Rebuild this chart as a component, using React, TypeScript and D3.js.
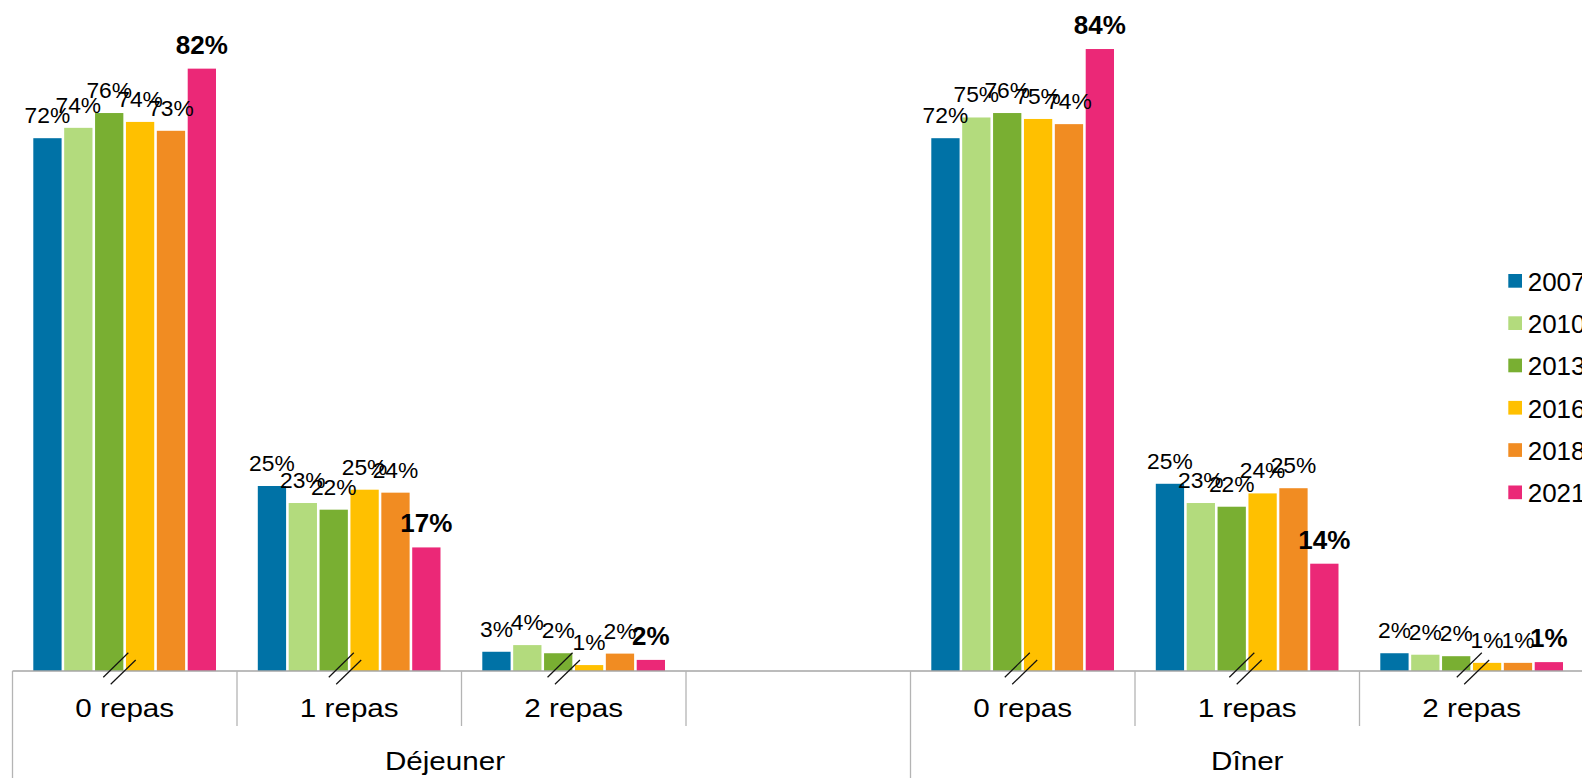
import React from "react";
import * as d3 from "d3";

// ---- Data ----
const groups = ["Déjeuner", "Dîner"];
const categories = ["0 repas", "1 repas", "2 repas"];
const years = ["2007", "2010", "2013", "2016", "2018", "2021"];

// bar heights (%), order: Déj 0/1/2 repas, Dîner 0/1/2 repas
const v2007 = [72.0, 25.0, 2.6, 72.0, 25.3, 2.4];
const v2010 = [73.4, 22.7, 3.5, 74.8, 22.7, 2.2];
const v2013 = [75.4, 21.8, 2.4, 75.4, 22.2, 2.0];
const v2016 = [74.2, 24.5, 0.8, 74.6, 24.0, 1.1];
const v2018 = [73.0, 24.1, 2.35, 73.9, 24.7, 1.1];
const v2021 = [81.4, 16.7, 1.5, 84.05, 14.5, 1.2];

// displayed labels (%)
const l2007 = [72, 25, 3, 72, 25, 2];
const l2010 = [74, 23, 4, 75, 23, 2];
const l2013 = [76, 22, 2, 76, 22, 2];
const l2016 = [74, 25, 1, 75, 24, 1];
const l2018 = [73, 24, 2, 74, 25, 1];
const l2021 = [82, 17, 2, 84, 14, 1];

const seriesValues = [v2007, v2010, v2013, v2016, v2018, v2021];
const seriesLabels = [l2007, l2010, l2013, l2016, l2018, l2021];
const colors = ["#0072A6", "#B3DB7D", "#79AF32", "#FFC000", "#F18C22", "#EB2877"];

// slot layout: 3 categories, an empty slot, 3 categories
const slots = ["D0", "D1", "D2", "Dgap", "N0", "N1", "N2"];
const dataSlots = ["D0", "D1", "D2", "N0", "N1", "N2"];
const breakOffsets = [-5.25, -4.25, -10, -1.75, -1.75, 1.25];

const W = 1582;
const H = 778;
const FONT = "'Liberation Sans', Arial, sans-serif";

export default function App() {
  const x0 = d3.scaleBand<string>().domain(slots).range([12.5, 1584]).padding(0);
  const slotW = x0.step();
  const x1 = d3
    .scaleBand<string>()
    .domain(years)
    .range([20.8, 203.5])
    .paddingInner(0.084)
    .paddingOuter(0);
  const y = d3.scaleLinear().domain([0, 100]).range([671, -69]);
  const baseY = y(0);

  const boundaries = d3.range(slots.length).map((k) => (x0(slots[k]) as number));

  return (
    <div style={{ position: "fixed", left: 0, top: 0 }}>
      <svg width={W} height={H} style={{ display: "block", background: "#fff" }} fontFamily={FONT}>
        {/* bars */}
        {dataSlots.map((slot, ci) => {
          const sx = x0(slot) as number;
          return (
            <g key={slot} transform={`translate(${sx},0)`}>
              {years.map((yr, si) => {
                const v = seriesValues[si][ci];
                const bx = x1(yr) as number;
                return (
                  <rect
                    key={yr}
                    x={bx}
                    y={y(v)}
                    width={x1.bandwidth()}
                    height={baseY - y(v)}
                    fill={colors[si]}
                  />
                );
              })}
            </g>
          );
        })}

        {/* axis line */}
        <line x1={12.5} x2={W} y1={baseY} y2={baseY} stroke="#a6a6a6" strokeWidth={1.5} />

        {/* category separators */}
        {boundaries.map((bx, k) => {
          const full = k === 0 || k === 4;
          return (
            <line
              key={k}
              x1={bx}
              x2={bx}
              y1={baseY}
              y2={full ? H : 726}
              stroke="#b4b4b4"
              strokeWidth={1.3}
            />
          );
        })}

        {/* axis break marks */}
        {dataSlots.map((slot, ci) => {
          const cx = (x0(slot) as number) + slotW / 2 + breakOffsets[ci];
          const cy = baseY - 2.4;
          return (
            <g key={"brk" + slot} stroke="#111" strokeWidth={1.2}>
              <line x1={cx - 16.2} y1={cy + 8.7} x2={cx + 8.8} y2={cy - 15.9} />
              <line x1={cx - 8.8} y1={cy + 15.7} x2={cx + 16.2} y2={cy - 8.6} />
            </g>
          );
        })}

        {/* data labels */}
        {dataSlots.map((slot, ci) => {
          const sx = x0(slot) as number;
          return (
            <g key={"lbl" + slot}>
              {years.map((yr, si) => {
                const v = seriesValues[si][ci];
                const bold = si === years.length - 1;
                return (
                  <text
                    key={yr}
                    x={sx + (x1(yr) as number) + x1.bandwidth() / 2}
                    y={y(v) - 15}
                    textAnchor="middle"
                    fontSize={bold ? 26 : 22.8}
                    fontWeight={bold ? "bold" : "normal"}
                    fill="#000"
                  >
                    {seriesLabels[si][ci] + "%"}
                  </text>
                );
              })}
            </g>
          );
        })}

        {/* category labels */}
        {dataSlots.map((slot, ci) => {
          const cx = (x0(slot) as number) + slotW / 2;
          return (
            <text
              key={"cat" + slot}
              transform={`translate(${cx},717) scale(1.14,1)`}
              textAnchor="middle"
              fontSize={26}
              fill="#000"
            >
              {categories[ci % 3]}
            </text>
          );
        })}

        {/* group labels */}
        {groups.map((g, gi) => {
          const cx = gi === 0 ? 445 : ((x0("N0") as number) + (x0("N2") as number) + slotW) / 2;
          return (
            <text
              key={g}
              transform={`translate(${cx},770) scale(1.14,1)`}
              textAnchor="middle"
              fontSize={26}
              fill="#000"
            >
              {g}
            </text>
          );
        })}

        {/* legend */}
        {years.map((yr, si) => (
          <g key={"leg" + yr} transform={`translate(1508.3,${274 + si * 42.3})`}>
            <rect x={0} y={0} width={13.7} height={13.7} fill={colors[si]} />
            <text x={19.4} y={16.7} fontSize={26} fill="#000">
              {yr}
            </text>
          </g>
        ))}
      </svg>
    </div>
  );
}
